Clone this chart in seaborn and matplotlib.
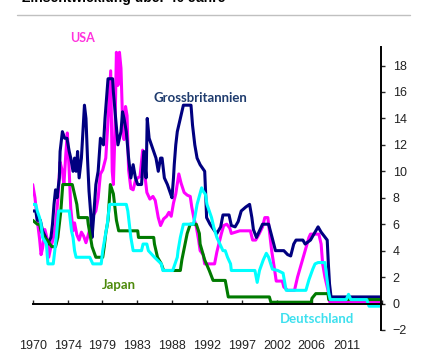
import pandas as pd
import numpy as np
import seaborn as sns
import matplotlib.pyplot as plt

# Leitzinsen (Jahr als Dezimalzahl, Zins in %)
usa_jahr = [1970.0, 1970.3, 1970.6, 1970.9, 1971.1, 1971.3, 1971.6, 1971.9, 1972.1, 1972.4,
            1972.7, 1973.0, 1973.3, 1973.6, 1973.9, 1974.1, 1974.35, 1974.55, 1974.8, 1975.0,
            1975.3, 1975.5, 1975.8, 1976.1, 1976.4, 1976.7, 1977.0, 1977.3, 1977.6, 1977.9,
            1978.3, 1978.6, 1978.9, 1979.2, 1979.6, 1979.9, 1980.25, 1980.45, 1980.6, 1980.8,
            1981.0, 1981.2, 1981.4, 1981.6, 1981.8, 1982.0, 1982.2, 1982.4, 1982.6, 1982.9,
            1983.2, 1983.5, 1983.8, 1984.1, 1984.45, 1984.7, 1985.0, 1985.4, 1985.8, 1986.1,
            1986.5, 1986.8, 1987.2, 1987.6, 1987.9, 1988.2, 1988.5, 1988.8, 1989.2, 1989.5,
            1989.9, 1990.3, 1990.7, 1990.9, 1991.2, 1991.5, 1991.8, 1992.0, 1992.4, 1992.6,
            1993.9, 1994.2, 1994.5, 1994.8, 1995.1, 1995.5, 1995.9, 1996.1, 1997.2, 1998.6,
            1998.9, 1999.3, 1999.7, 2000.2, 2000.5, 2000.9, 2001.1, 2001.4, 2001.8, 2002.0,
            2002.8, 2003.0, 2003.5, 2004.4, 2004.8, 2005.3, 2005.8, 2006.3, 2006.5, 2007.6,
            2007.9, 2008.1, 2008.4, 2008.8, 2009.0, 2015.85]
usa_zins = [9.0, 8.0, 6.3, 4.9, 3.7, 4.2, 5.6, 4.9, 3.5, 4.3,
            4.9, 5.9, 7.8, 10.7, 10.0, 9.0, 11.3, 12.9, 10.0, 7.2,
            5.5, 6.1, 5.2, 4.8, 5.4, 5.1, 4.6, 5.2, 5.8, 6.6,
            7.0, 8.0, 9.8, 10.1, 11.0, 13.8, 17.6, 10.0, 9.0, 12.8,
            19.0, 16.5, 19.0, 17.8, 14.0, 12.4, 14.9, 14.2, 10.1, 8.7,
            8.6, 9.3, 9.5, 9.6, 11.6, 9.9, 8.4, 7.9, 8.1, 7.8,
            6.5, 5.9, 6.4, 6.6, 6.9, 6.6, 7.6, 8.3, 9.8, 9.1,
            8.4, 8.2, 8.1, 7.3, 6.4, 5.8, 4.8, 4.0, 3.7, 3.0,
            3.0, 3.9, 4.6, 5.3, 5.9, 6.0, 5.7, 5.3, 5.5, 5.5,
            4.8, 4.8, 5.2, 5.8, 6.5, 6.5, 5.5, 4.0, 2.5, 1.7,
            1.7, 1.25, 1.0, 1.0, 2.0, 3.0, 4.0, 5.0, 5.25, 5.25,
            4.5, 3.0, 2.0, 1.0, 0.15, 0.15]

gb_jahr = [1970.0, 1970.4, 1970.6, 1971.0, 1971.3, 1971.7, 1972.0, 1972.4, 1972.6, 1972.8,
           1973.0, 1973.2, 1973.5, 1973.6, 1973.9, 1974.2, 1974.5, 1974.8, 1975.0, 1975.3,
           1975.5, 1975.7, 1975.9, 1976.1, 1976.4, 1976.6, 1976.8, 1977.0, 1977.2, 1977.4,
           1977.6, 1977.8, 1978.0, 1978.3, 1978.6, 1978.9, 1979.3, 1979.5, 1979.9, 1980.5,
           1980.6, 1980.9, 1981.2, 1981.6, 1981.8, 1982.0, 1982.3, 1982.6, 1982.9, 1983.2,
           1983.5, 1983.8, 1984.3, 1984.6, 1984.9, 1985.05, 1985.3, 1985.6, 1985.9, 1986.2,
           1986.5, 1986.8, 1987.0, 1987.3, 1987.7, 1988.0, 1988.3, 1988.5, 1988.6, 1988.8,
           1989.0, 1989.4, 1989.8, 1990.8, 1991.0, 1991.3, 1991.6, 1992.0, 1992.6, 1992.75,
           1992.85, 1993.3, 1993.9, 1994.2, 1994.7, 1995.0, 1995.8, 1996.1, 1996.6, 1997.0,
           1997.4, 1998.0, 1998.5, 1998.8, 1999.0, 1999.4, 1999.8, 2000.2, 2001.0, 2001.5,
           2001.9, 2003.0, 2003.5, 2003.9, 2004.3, 2004.6, 2005.5, 2005.8, 2006.5, 2007.0,
           2007.5, 2007.9, 2008.3, 2008.7, 2008.85, 2009.0, 2009.2, 2015.85]
gb_zins = [7.0, 7.0, 6.3, 6.3, 5.5, 5.0, 4.5, 5.0, 6.0, 7.5,
           8.6, 8.0, 9.5, 11.5, 13.0, 12.5, 12.5, 11.5, 11.0, 10.0,
           11.0, 10.0, 11.5, 9.5, 11.0, 13.0, 15.0, 14.0, 11.0, 8.5,
           7.0, 5.0, 6.5, 9.0, 10.0, 12.5, 12.0, 14.0, 17.0, 17.0,
           16.0, 14.0, 12.0, 13.0, 14.5, 14.0, 13.0, 11.0, 9.5, 10.5,
           9.5, 9.0, 9.0, 11.5, 9.5, 14.0, 12.5, 12.0, 11.5, 11.0,
           10.0, 11.0, 11.0, 9.5, 9.0, 8.5, 8.0, 9.5, 10.5, 12.0,
           13.0, 14.0, 15.0, 15.0, 13.5, 12.0, 11.0, 10.5, 10.0, 8.0,
           6.5, 6.0, 5.5, 5.3, 5.8, 6.7, 6.7, 5.9, 5.8, 6.2,
           7.0, 7.3, 7.5, 6.5, 5.6, 5.0, 5.5, 6.0, 6.0, 4.9,
           4.0, 4.0, 3.7, 3.6, 4.5, 4.8, 4.8, 4.5, 4.8, 5.3,
           5.8, 5.4, 5.1, 4.8, 3.0, 1.5, 0.5, 0.5]

japan_jahr = [1970.0, 1970.6, 1970.9, 1971.1, 1971.5, 1971.9, 1972.5, 1973.0, 1973.3, 1973.5,
              1973.7, 1973.95, 1975.2, 1975.4, 1975.6, 1975.8, 1976.0, 1977.2, 1977.3, 1977.6,
              1977.8, 1978.3, 1979.2, 1979.4, 1979.6, 1979.9, 1980.2, 1980.6, 1980.8, 1981.0,
              1981.3, 1983.8, 1983.9, 1985.9, 1986.0, 1986.2, 1986.4, 1986.9, 1987.2, 1989.4,
              1989.6, 1989.95, 1990.3, 1990.7, 1991.5, 1991.9, 1992.0, 1992.6, 1993.2, 1993.7,
              1995.3, 1995.7, 2001.1, 2001.3, 2006.6, 2006.7, 2007.2, 2008.8, 2008.9, 2015.85]
japan_zins = [6.3, 6.0, 6.0, 5.5, 5.0, 4.8, 4.3, 4.3, 5.0, 6.0,
              7.0, 9.0, 9.0, 8.5, 8.0, 7.5, 6.5, 6.5, 6.0, 5.0,
              4.3, 3.5, 3.5, 4.3, 5.3, 6.3, 9.0, 8.3, 7.3, 6.3,
              5.5, 5.5, 5.0, 5.0, 4.5, 4.0, 3.5, 3.0, 2.5, 2.5,
              3.3, 4.3, 5.3, 6.0, 6.0, 5.3, 4.5, 3.3, 2.5, 1.75,
              1.75, 0.5, 0.5, 0.1, 0.1, 0.4, 0.75, 0.75, 0.3, 0.3]

de_jahr = [1970.0, 1970.4, 1970.6, 1970.9, 1971.1, 1971.3, 1971.8, 1972.0, 1972.7, 1972.9,
           1973.1, 1973.4, 1974.8, 1974.9, 1975.1, 1975.3, 1975.5, 1975.7, 1977.5, 1977.9,
           1979.0, 1979.2, 1979.5, 1979.8, 1980.1, 1982.3, 1982.5, 1982.7, 1982.9, 1983.2,
           1984.3, 1984.5, 1985.0, 1985.2, 1986.0, 1986.9, 1987.1, 1988.4, 1988.7, 1989.0,
           1989.1, 1989.4, 1989.8, 1991.1, 1991.3, 1991.6, 1992.2, 1992.4, 1992.7, 1992.9,
           1993.2, 1993.5, 1993.8, 1994.2, 1994.6, 1995.0, 1995.3, 1995.6, 1996.0, 1996.1,
           1999.2, 1999.5, 1999.8, 2000.3, 2000.7, 2001.0, 2001.5, 2002.2, 2002.9, 2003.3,
           2005.9, 2006.3, 2006.8, 2007.1, 2007.5, 2008.4, 2008.6, 2008.9, 2009.1, 2011.2,
           2011.5, 2011.8, 2013.9, 2014.2, 2015.85]
de_zins = [7.5, 7.5, 7.0, 6.5, 6.0, 5.0, 4.5, 3.0, 3.0, 4.0,
           5.0, 7.0, 7.0, 6.5, 5.5, 5.0, 4.0, 3.5, 3.5, 3.0,
           3.0, 4.0, 5.0, 6.0, 7.5, 7.5, 7.0, 6.0, 5.0, 4.0,
           4.0, 4.5, 4.5, 4.0, 3.5, 3.0, 2.5, 2.5, 3.0, 3.5,
           4.0, 5.0, 6.0, 6.0, 6.5, 7.5, 8.75, 8.5, 8.25, 7.5,
           7.0, 6.5, 5.75, 5.0, 4.5, 4.0, 4.0, 3.5, 3.0, 2.5,
           2.5, 1.6, 2.5, 3.3, 3.8, 3.5, 2.6, 2.5, 2.3, 1.0,
           1.0, 1.8, 2.6, 3.0, 3.1, 3.1, 2.2, 0.8, 0.3, 0.3,
           0.7, 0.3, 0.3, -0.2, -0.2]

x_labels = ["1970", "1974", "1979", "1983", "1988", "1992", "1997", "2002", "2006", "2011"]

df = pd.concat([
    pd.DataFrame({"jahr": usa_jahr, "zins": usa_zins, "land": "USA"}),
    pd.DataFrame({"jahr": gb_jahr, "zins": gb_zins, "land": "Grossbritannien"}),
    pd.DataFrame({"jahr": japan_jahr, "zins": japan_zins, "land": "Japan"}),
    pd.DataFrame({"jahr": de_jahr, "zins": de_zins, "land": "Deutschland"}),
], ignore_index=True)

farben = {"USA": "#ff00ff", "Grossbritannien": "#000080",
          "Japan": "#007a00", "Deutschland": "#00ffff"}

sns.set_style("white")
plt.rcParams["font.family"] = ["Liberation Sans", "DejaVu Sans"]

fig = plt.figure(figsize=(4.27, 3.6), dpi=100)
ax = fig.add_axes([32.7/427, 30/360, (381.5-32.7)/427, (330-47)/360])

sns.lineplot(data=df, x="jahr", y="zins", hue="land", palette=farben,
             estimator=None, sort=False, legend=False, linewidth=2.2, ax=ax)

ax.set_xlim(1970.0, 1970 + 550/12)
ax.set_ylim(-2, 19.4)
ax.set_xlabel("")
ax.set_ylabel("")

# x-Achse bei 0, Beschriftung unten
ticks = [1970 + 55*k/12 for k in range(11)]
ax.set_xticks(ticks)
ax.set_xticklabels(x_labels + [""])
ax.spines["bottom"].set_position(("data", 0))
ax.spines["left"].set_visible(False)
ax.spines["top"].set_visible(False)
for s in ["bottom", "right"]:
    ax.spines[s].set_linewidth(1.4)
    ax.spines[s].set_color("black")
ax.tick_params(axis="x", direction="in", length=3, width=1, pad=26.5,
               labelsize=9, labelcolor="#222222", bottom=True)
ax.yaxis.tick_right()
ax.set_yticks(range(-2, 20, 2))
ax.tick_params(axis="y", direction="out", length=3, width=1, pad=5,
               labelsize=9, labelcolor="#222222", right=True, left=False)
ax.grid(False)

# Titel (wie im Original oben angeschnitten) und Trennlinie
fig.text(22/427, 1 - 2/360, "Zinsentwicklung über 40 Jahre", fontsize=10,
         fontweight="bold", va="baseline", ha="left", color="black")
fig.add_artist(plt.Line2D([17/427, 410/427], [1 - 15/360, 1 - 15/360],
                          color="#c0c0c0", linewidth=1))

fig.text(83/427, 1 - 38/360, "USA", color="#ff33dd", fontsize=9,
         fontweight="bold", ha="center", va="center", family="Lato")
fig.text(200/427, 1 - 97.5/360, "Grossbritannien", color="#1f3c6e", fontsize=9.5,
         fontweight="bold", ha="center", va="center", family="Lato")
fig.text(119/427, 1 - 285/360, "Japan", color="#4d8a0b", fontsize=9.5,
         fontweight="bold", ha="center", va="center", family="Lato")
fig.text(316.7/427, 1 - 319/360, "Deutschland", color="#3ee0ee", fontsize=9.5,
         fontweight="bold", ha="center", va="center", family="Lato")

fig.savefig("out.png", dpi=100)
